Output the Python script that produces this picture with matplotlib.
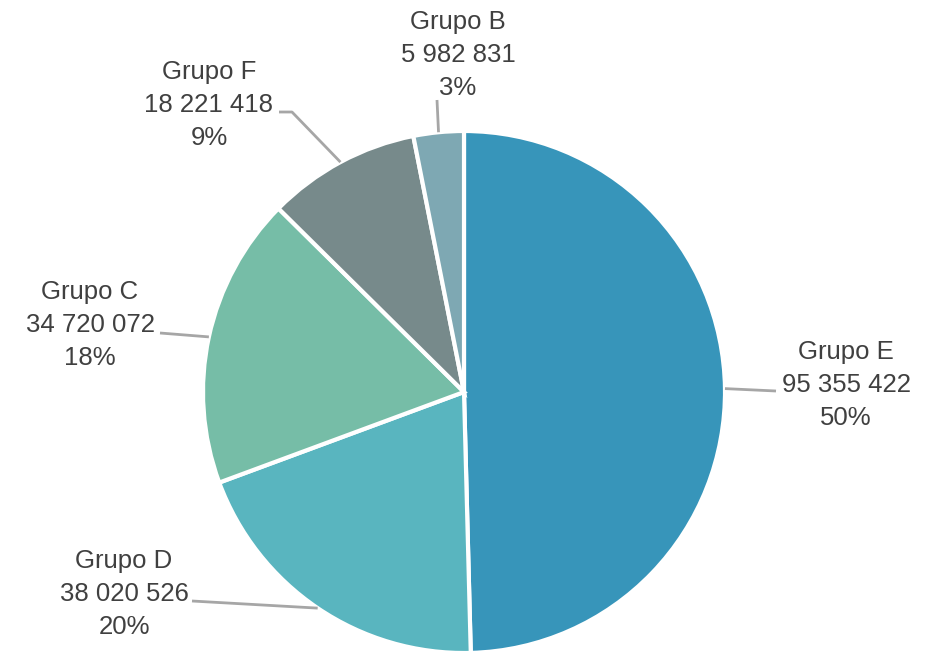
import matplotlib
matplotlib.use("Agg")
import matplotlib.pyplot as plt
import numpy as np

categories = ["Grupo E", "Grupo D", "Grupo C", "Grupo F", "Grupo B"]
values = [95355422, 38020526, 34720072, 18221418, 5982831]
colors = ["#3795BA", "#59B5BF", "#76BDA7", "#778A8B", "#7EA8B3"]

W, H = 936, 651
fig = plt.figure(figsize=(W / 100, H / 100), dpi=100)
ax = fig.add_axes([0, 0, 1, 1])

cx, cy, R = 464, 259, 261
wedges, _ = ax.pie(values, colors=colors, startangle=90, counterclock=False,
                   center=(cx, cy), radius=R, frame=True,
                   wedgeprops=dict(edgecolor="white", linewidth=3))
ax.set_xlim(0, W)
ax.set_ylim(0, H)
ax.set_aspect("equal")
ax.axis("off")

total = sum(values)
# label centers (px from top) and leader-line end points
label_pos = {
    "Grupo E": (846, 385),
    "Grupo D": (124, 594),
    "Grupo C": (90, 325),
    "Grupo F": (209, 105),
    "Grupo B": (458, 55),
}
line_pts = {
    "Grupo E": [(776, 391)],
    "Grupo D": [(192, 601)],
    "Grupo C": [(160, 333)],
    "Grupo F": [(292, 112), (279, 112)],
    "Grupo B": [(437, 100)],
}

def fmt(v):
    return f"{v:,}".replace(",", " ")

for w, cat, v in zip(wedges, categories, values):
    ang = np.deg2rad((w.theta1 + w.theta2) / 2)
    sx, sy = cx + R * np.cos(ang), cy + R * np.sin(ang)
    pts = [(sx, sy)] + [(x, H - y) for x, y in line_pts[cat]]
    xs, ys = zip(*pts)
    ax.plot(xs, ys, color="#A6A6A6", lw=2, solid_capstyle="butt")
    tx, ty = label_pos[cat]
    pct = round(100 * v / total)
    ax.text(tx, H - ty, f"{cat}\n{fmt(v)}\n{pct}%", ha="center", va="center",
            fontsize=18.5, color="#404040", family="Liberation Sans",
            linespacing=1.45)

fig.savefig("out.png", dpi=100, facecolor="white")
